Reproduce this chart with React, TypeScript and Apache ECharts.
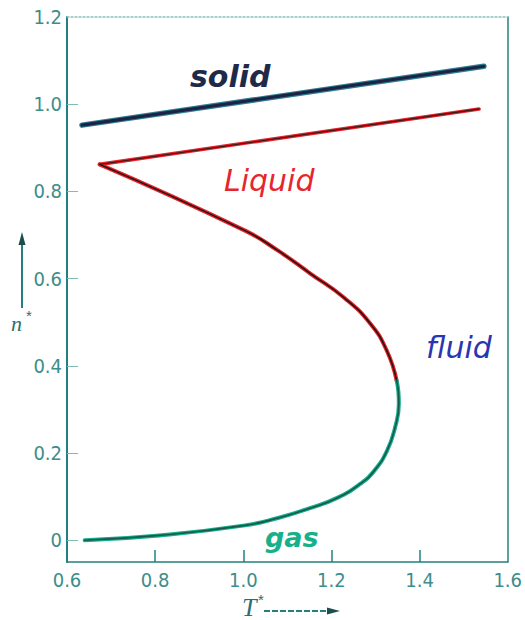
import React, { useEffect, useRef } from "react";
import * as echarts from "echarts";

// Reduced temperature / reduced density phase diagram (Lennard-Jones type)
const xTicks = [0.6, 0.8, 1.0, 1.2, 1.4, 1.6];
const yTicks = [0, 0.2, 0.4, 0.6, 0.8, 1.0, 1.2];

const solidT = [0.634, 1.546];
const solidN = [0.952, 1.087];

const liquidUpperT = [0.674, 1.535];
const liquidUpperN = [0.862, 0.989];

const liquidLowerT = [0.674, 1.004, 1.079, 1.153, 1.229, 1.288, 1.326, 1.348];
const liquidLowerN = [0.862, 0.71, 0.664, 0.611, 0.556, 0.497, 0.434, 0.366];

const gasT = [0.64, 0.809, 1.004, 1.079, 1.153, 1.213, 1.265, 1.297, 1.326, 1.344, 1.353, 1.352, 1.348];
const gasN = [0.0, 0.011, 0.034, 0.051, 0.074, 0.097, 0.129, 0.159, 0.205, 0.257, 0.313, 0.34, 0.366];

const zip = (a: number[], b: number[]) => a.map((v, i) => [v, b[i]]);

const AXIS = "#23807e";
const LABEL = "#3d8d8b";
const TICK_FONT = "'Liberation Sans Narrow', 'DejaVu Sans Condensed', 'Liberation Sans', sans-serif";
const HAND_FONT = "'DejaVu Sans', 'Noto Sans', sans-serif";
const CURVE_SMOOTH = 0.5;

function line(name: string, data: number[][], color: string, width: number, smooth: number | boolean, z: number) {
  return {
    name,
    type: "line",
    data,
    smooth,
    symbol: "none",
    z,
    lineStyle: { color, width, cap: "round", join: "round" },
  };
}

export default function App() {
  const ref = useRef<HTMLDivElement>(null);

  useEffect(() => {
    if (!ref.current) return;
    const chart = echarts.init(ref.current, undefined, { renderer: "svg" });
    const fmt = (v: number) => (v === 0 ? "0" : v.toFixed(1));

    const solid = zip(solidT, solidN);
    const liqU = zip(liquidUpperT, liquidUpperN);
    const liqL = zip(liquidLowerT, liquidLowerN);
    const gas = zip(gasT, gasN);

    chart.setOption({
      animation: false,
      backgroundColor: "#ffffff",
      grid: { left: 67, right: 13, top: 17, bottom: 58 },
      xAxis: [
        {
          type: "value",
          min: 0.6,
          max: 1.6,
          axisLine: { onZero: false, lineStyle: { color: AXIS, width: 1.5 } },
          axisTick: {
            inside: true,
            length: 12,
            customValues: xTicks.slice(1, -1),
            lineStyle: { color: AXIS, width: 1.5 },
          },
          axisLabel: {
            customValues: xTicks,
            formatter: fmt,
            color: LABEL,
            fontFamily: TICK_FONT,
            fontSize: 20,
            margin: 8,
          },
          splitLine: { show: false },
        },
        {
          type: "value",
          position: "top",
          min: 0.6,
          max: 1.6,
          axisLine: { show: true, onZero: false, lineStyle: { color: "#8cc2bf", width: 1.5, type: [2, 2] } },
          axisTick: { show: false },
          axisLabel: { show: false },
          splitLine: { show: false },
        },
      ],
      yAxis: [
        {
          type: "value",
          min: -0.05,
          max: 1.2,
          axisLine: { show: true, onZero: false, lineStyle: { color: AXIS, width: 2 } },
          axisTick: {
            show: true,
            inside: true,
            length: 11,
            customValues: yTicks.slice(0, -1),
            lineStyle: { color: "#7fbcb9", width: 1 },
          },
          axisLabel: {
            customValues: yTicks,
            formatter: fmt,
            color: LABEL,
            fontFamily: TICK_FONT,
            fontSize: 20,
            margin: 5,
          },
          splitLine: { show: false },
        },
        {
          type: "value",
          position: "right",
          min: -0.05,
          max: 1.2,
          axisLine: { show: true, onZero: false, lineStyle: { color: AXIS, width: 1.5 } },
          axisTick: { show: false },
          axisLabel: { show: false },
          splitLine: { show: false },
        },
      ],
      series: [
        line("solid-halo", solid, "#2f7f92", 5.5, false, 2),
        line("solid", solid, "#1c2446", 3.2, false, 3),
        line("liquid-upper-halo", liqU, "#e4232b", 3.6, false, 2),
        line("liquid-upper", liqU, "#4a1414", 1.3, false, 3),
        line("liquid-lower-halo", liqL, "#e4232b", 4, CURVE_SMOOTH, 2),
        line("liquid-lower", liqL, "#2a1010", 1.6, CURVE_SMOOTH, 3),
        line("gas-halo", gas, "#15ae8c", 4, CURVE_SMOOTH, 2),
        line("gas", gas, "#16584c", 1.6, CURVE_SMOOTH, 3),
      ],
      graphic: [
        // phase labels
        {
          type: "text",
          left: 190,
          top: 61,
          style: { text: "solid", font: `italic bold 30px ${HAND_FONT}`, fill: "#1f2a4a" },
        },
        {
          type: "text",
          left: 224,
          top: 165,
          style: { text: "Liquid", font: `italic 30px ${HAND_FONT}`, fill: "#e6262d" },
        },
        {
          type: "text",
          left: 426,
          top: 332,
          style: { text: "fluid", font: `italic 30px ${HAND_FONT}`, fill: "#2a35b0" },
        },
        {
          type: "text",
          left: 265,
          top: 524,
          style: { text: "gas", font: `italic bold 27px ${HAND_FONT}`, fill: "#17b08a" },
        },
        // y-axis name with arrow
        {
          type: "line",
          shape: { x1: 22, y1: 308, x2: 22, y2: 242 },
          style: { stroke: AXIS, lineWidth: 2 },
        },
        {
          type: "polygon",
          shape: { points: [[22, 232], [18.5, 245], [25.5, 245]] },
          style: { fill: "#1d4e4e" },
        },
        {
          type: "text",
          left: 11,
          top: 312,
          style: { text: "n", font: "italic 22px 'Liberation Serif', serif", fill: "#2a6f70" },
        },
        {
          type: "text",
          left: 26,
          top: 308,
          style: { text: "*", font: "15px 'Liberation Sans', sans-serif", fill: "#2a6f70" },
        },
        // x-axis name with arrow
        {
          type: "text",
          left: 242,
          top: 594,
          style: { text: "T", font: "italic 26px 'Liberation Serif', serif", fill: "#2a6f70" },
        },
        {
          type: "text",
          left: 258,
          top: 592,
          style: { text: "*", font: "15px 'Liberation Sans', sans-serif", fill: "#2a6f70" },
        },
        {
          type: "line",
          shape: { x1: 264, y1: 611, x2: 330, y2: 611 },
          style: { stroke: AXIS, lineWidth: 2, lineDash: [6, 2] },
        },
        {
          type: "polygon",
          shape: { points: [[340, 611], [327, 607.5], [327, 614.5]] },
          style: { fill: "#1d4e4e" },
        },
      ],
    });

    return () => chart.dispose();
  }, []);

  return (
    <div
      ref={ref}
      style={{ position: "absolute", left: 0, top: 0, width: 525, height: 620, background: "#fff" }}
    />
  );
}
